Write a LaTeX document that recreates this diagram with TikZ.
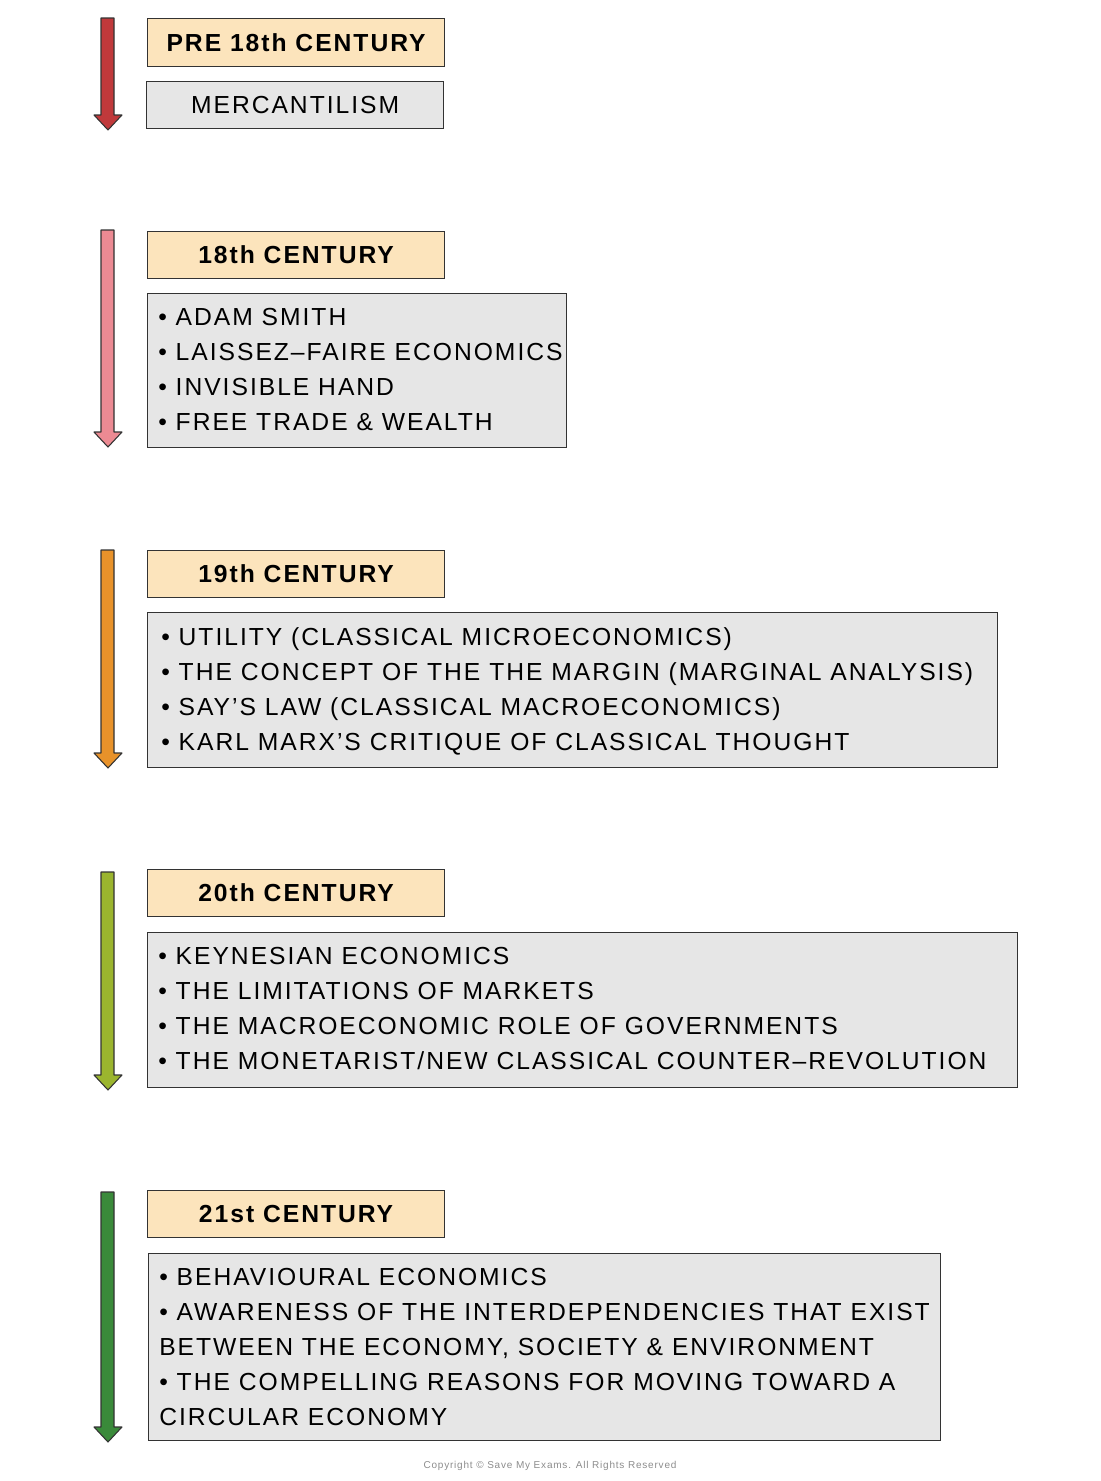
\documentclass[tikz,border=0pt]{standalone}
\usepackage{fontspec}
\setmainfont[LetterSpace=8]{Liberation Sans}
\begin{document}
\begin{tikzpicture}[x=0.75pt,y=-0.75pt,
  hdr/.style={draw=black!80,line width=0.9pt,fill=hdrfill,anchor=north west,inner sep=0pt,font=\fontsize{18.5}{20}\selectfont\bfseries},
  box/.style={draw=black!80,line width=0.9pt,fill=boxfill,anchor=north west,inner sep=0pt},
  txt/.style={anchor=north west,align=left,inner sep=0pt,font=\fontsize{18.5}{26.25}\selectfont},
  arr/.style={draw=black!80,line width=0.8pt,line join=round}]
\definecolor{hdrfill}{HTML}{FCE4BC}
\definecolor{boxfill}{HTML}{E6E6E6}
\definecolor{cA}{HTML}{C0393B}
\definecolor{cB}{HTML}{EC8A93}
\definecolor{cC}{HTML}{E8922A}
\definecolor{cD}{HTML}{9BB52E}
\definecolor{cE}{HTML}{3A8A3A}
\useasboundingbox (0,0) rectangle (1100,1481);
\newcommand{\tlarrow}[3]{% colour, top, bottom
  \fill[#1] (101,#2) -- (114,#2) -- (114,#3-15) -- (122,#3-15) -- (108,#3) -- (94,#3-15) -- (101,#3-15) -- cycle;
  \draw[arr] (101,#2) -- (114,#2) -- (114,#3-15) -- (122,#3-15) -- (108,#3) -- (94,#3-15) -- (101,#3-15) -- cycle;}
% 1
\tlarrow{cA}{18}{130}
\node[hdr,minimum width=297*0.75pt,minimum height=48*0.75pt] (h1) at (147,18) {PRE 18th CENTURY};
\node[box,minimum width=297*0.75pt,minimum height=47*0.75pt,font=\fontsize{18.5}{20}\selectfont] (b1) at (146,81) {MERCANTILISM};
% 2
\tlarrow{cB}{230}{447}
\node[hdr,minimum width=297*0.75pt,minimum height=47*0.75pt] (h2) at (147,231) {18th CENTURY};
\node[box,minimum width=419*0.75pt,minimum height=154*0.75pt] (b2) at (147,293) {};
\node[txt] (t2) at (158,308) {• ADAM SMITH\\• LAISSEZ–FAIRE ECONOMICS\\• INVISIBLE HAND\\• FREE TRADE \& WEALTH};
% 3
\tlarrow{cC}{550}{768}
\node[hdr,minimum width=297*0.75pt,minimum height=47*0.75pt] (h3) at (147,550) {19th CENTURY};
\node[box,minimum width=850*0.75pt,minimum height=155*0.75pt] (b3) at (147,612) {};
\node[txt] (t3) at (161,627) {• UTILITY (CLASSICAL MICROECONOMICS)\\• THE CONCEPT OF THE THE MARGIN (MARGINAL ANALYSIS)\\• SAY’S LAW (CLASSICAL MACROECONOMICS)\\• KARL MARX’S CRITIQUE OF CLASSICAL THOUGHT};
% 4
\tlarrow{cD}{872}{1090}
\node[hdr,minimum width=297*0.75pt,minimum height=47*0.75pt] (h4) at (147,869) {20th CENTURY};
\node[box,minimum width=870*0.75pt,minimum height=155*0.75pt] (b4) at (147,932) {};
\node[txt] (t4) at (158,947) {• KEYNESIAN ECONOMICS\\• THE LIMITATIONS OF MARKETS\\• THE MACROECONOMIC ROLE OF GOVERNMENTS\\• THE MONETARIST/NEW CLASSICAL COUNTER–REVOLUTION};
% 5
\tlarrow{cE}{1192}{1442}
\node[hdr,minimum width=297*0.75pt,minimum height=47*0.75pt] (h5) at (147,1190) {21st CENTURY};
\node[box,minimum width=792*0.75pt,minimum height=187*0.75pt] (b5) at (148,1253) {};
\node[txt] (t5) at (159,1268) {• BEHAVIOURAL ECONOMICS\\• AWARENESS OF THE INTERDEPENDENCIES THAT EXIST\\BETWEEN THE ECONOMY, SOCIETY \& ENVIRONMENT\\• THE COMPELLING REASONS FOR MOVING TOWARD A\\CIRCULAR ECONOMY};
\node[font=\fontsize{7.5}{9}\selectfont,text=black!45] (cp) at (550,1466) {Copyright © Save My Exams. All Rights Reserved};
\end{tikzpicture}
\end{document}
